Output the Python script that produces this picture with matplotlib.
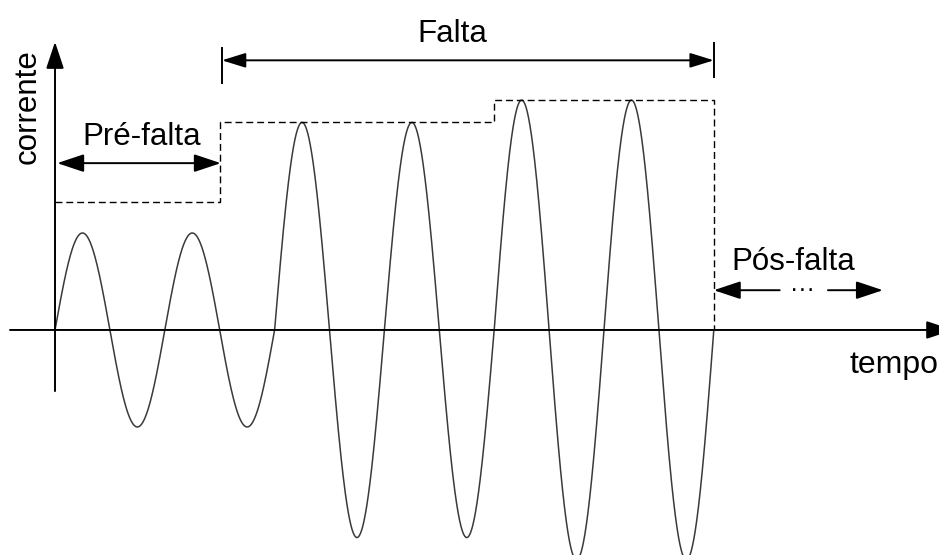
import numpy as np
import matplotlib.pyplot as plt

plt.rcParams['font.family'] = ['Liberation Sans', 'DejaVu Sans']

# amplitude of each cycle of the current (pre-fault = 1)
cycle_amp = [1.0, 1.0, 2.14, 2.14, 2.37, 2.37]

# dashed envelope (time in cycles, level)
env_t = [0, 1.5, 1.5, 4, 4, 6, 6]
env_level = [1.32, 1.32, 2.14, 2.14, 2.37, 2.37, 0]

labels = ["Pré-falta", "Falta", "Pós-falta"]
axis_labels = ["tempo", "corrente"]

t = np.linspace(0, len(cycle_amp), 3000)
idx = np.minimum(np.floor(t).astype(int), len(cycle_amp) - 1)
amp = np.array(cycle_amp)[idx]
current = amp * np.sin(2 * np.pi * t)

fig = plt.figure(figsize=(9.39, 5.55), dpi=100)
ax = fig.add_axes([0, 0, 1, 1])
ax.set_xlim(-0.501, 8.051)
ax.set_ylim(-2.32, 3.402)
ax.axis('off')

ax.plot(t, current, color='#3a3a3a', lw=1.1)
ax.plot(env_t, env_level, color='black', lw=1.0, linestyle=(0, (5, 2.8)))

head = '-|>,head_length=1.65,head_width=0.55'
both = '<|-|>,head_length=1.65,head_width=0.55'
kw = dict(shrinkA=0, shrinkB=0, lw=1.4, color='black', mutation_scale=10)

# axes
ax.annotate('', xy=(0, 2.97), xytext=(0, -0.63), arrowprops=dict(arrowstyle=head, **kw))
ax.annotate('', xy=(8.18, 0), xytext=(-0.41, 0), arrowprops=dict(arrowstyle=head, **kw),
            annotation_clip=False)

# pre-fault
ax.annotate('', xy=(0.02, 1.72), xytext=(1.51, 1.72), arrowprops=dict(arrowstyle=both, **kw))
ax.text(0.79, 1.91, labels[0], fontsize=22.5, ha='center', va='baseline')

# fault
ax.annotate('', xy=(1.52, 2.78), xytext=(6.0, 2.78),
            arrowprops=dict(arrowstyle='<|-|>,head_length=1.45,head_width=0.45', **kw))
ax.plot([1.52, 1.52], [2.55, 2.91], color='black', lw=1.4)
ax.plot([6.0, 6.0], [2.61, 2.96], color='black', lw=1.4)
ax.text(3.62, 2.97, labels[1], fontsize=22.5, ha='center', va='baseline')

# post-fault
ax.annotate('', xy=(6.0, 0.41), xytext=(6.6, 0.41), arrowprops=dict(arrowstyle=head, **kw))
ax.annotate('', xy=(7.54, 0.41), xytext=(7.04, 0.41), arrowprops=dict(arrowstyle=head, **kw))
ax.text(6.81, 0.41, '···', fontsize=18, ha='center', va='center')
ax.text(6.72, 0.62, labels[2], fontsize=22.5, ha='center', va='baseline')

ax.text(7.24, -0.44, axis_labels[0], fontsize=23, ha='left', va='baseline')
ax.text(-0.246, 2.30, axis_labels[1], fontsize=22.5, ha='center', va='center', rotation=90)

fig.savefig('out.png', dpi=100)
